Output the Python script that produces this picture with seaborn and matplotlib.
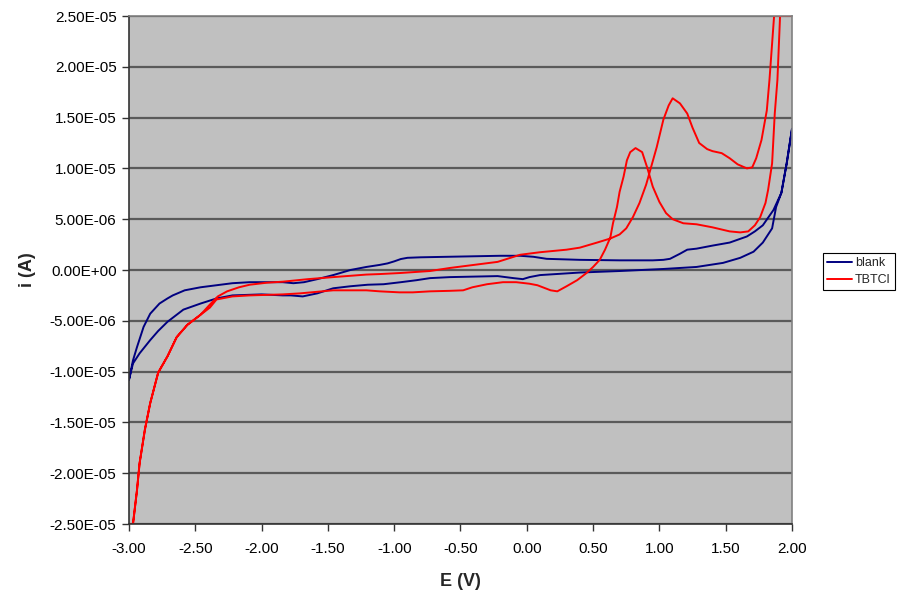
import numpy as np
import pandas as pd
import seaborn as sns
import matplotlib
matplotlib.use("Agg")
import matplotlib.pyplot as plt
from matplotlib.ticker import FuncFormatter

# Cyclic voltammograms, potential E in V and current i in microamps.
# Each trace is stored as forward scan (-3 V -> +2 V) and reverse scan (+2 V -> -3 V).
blank_fwd_E = [-3.00, -2.97, -2.94, -2.91, -2.89, -2.84, -2.77, -2.71, -2.67, -2.58,
               -2.46, -2.34, -2.22, -2.09, -1.96, -1.84, -1.76, -1.68, -1.58, -1.46,
               -1.33, -1.21, -1.11, -1.05, -1.00, -0.95, -0.90, -0.80, -0.60, -0.40,
               -0.20, -0.05, 0.05, 0.15, 0.40, 0.70, 0.95, 1.03, 1.08, 1.155,
               1.21, 1.28, 1.40, 1.53, 1.66, 1.72, 1.78, 1.86, 1.92, 1.96, 2.00]
blank_fwd_i = [-10.8, -8.9, -7.6, -6.4, -5.6, -4.3, -3.3, -2.8, -2.5, -2.0,
               -1.7, -1.5, -1.3, -1.2, -1.2, -1.2, -1.3, -1.2, -0.9, -0.5,
               0.0, 0.3, 0.5, 0.65, 0.85, 1.08, 1.2, 1.25, 1.3, 1.35,
               1.4, 1.4, 1.3, 1.1, 1.0, 0.95, 0.95, 1.0, 1.1, 1.6,
               2.0, 2.1, 2.4, 2.7, 3.3, 3.8, 4.4, 5.9, 7.6, 10.5, 13.9]
blank_rev_E = [2.00, 1.96, 1.92, 1.88, 1.85, 1.78, 1.71, 1.61, 1.48, 1.28,
               1.03, 0.70, 0.40, 0.10, 0.02, -0.03, -0.10, -0.22, -0.40, -0.58,
               -0.73, -0.83, -0.95, -1.08, -1.20, -1.33, -1.46, -1.58, -1.69, -1.78,
               -1.84, -2.00, -2.22, -2.34, -2.46, -2.59, -2.71, -2.78, -2.84, -2.92,
               -2.97, -3.00]
blank_rev_i = [13.9, 10.5, 7.6, 6.2, 4.1, 2.7, 1.8, 1.2, 0.7, 0.3,
               0.1, -0.1, -0.25, -0.5, -0.7, -0.9, -0.8, -0.6, -0.65, -0.7,
               -0.8, -1.0, -1.2, -1.4, -1.45, -1.6, -1.8, -2.3, -2.6, -2.5,
               -2.5, -2.4, -2.5, -2.8, -3.3, -3.9, -5.1, -6.0, -6.9, -8.2,
               -9.2, -10.8]

tbtcl_fwd_E = [-3.00, -2.97, -2.94, -2.92, -2.88, -2.84, -2.78, -2.71, -2.64, -2.56,
               -2.46, -2.39, -2.33, -2.26, -2.17, -2.09, -1.96, -1.84, -1.65, -1.46,
               -1.21, -1.11, -0.96, -0.73, -0.58, -0.40, -0.22, -0.05, 0.10, 0.30,
               0.40, 0.53, 0.63, 0.70, 0.75, 0.80, 0.85, 0.90, 0.98, 1.03,
               1.07, 1.10, 1.155, 1.21, 1.25, 1.30, 1.36, 1.40, 1.47, 1.53,
               1.59, 1.66, 1.70, 1.73, 1.77, 1.81, 1.83, 1.865, 1.88, 2.00]
tbtcl_fwd_i = [-28.0, -25.0, -21.7, -19.0, -15.7, -13.1, -10.1, -8.5, -6.6, -5.4,
               -4.4, -3.4, -2.6, -2.1, -1.7, -1.45, -1.25, -1.15, -0.9, -0.7,
               -0.45, -0.4, -0.3, -0.1, 0.2, 0.5, 0.8, 1.5, 1.75, 2.0,
               2.2, 2.7, 3.1, 3.5, 4.1, 5.2, 6.6, 8.4, 12.1, 14.8,
               16.2, 16.9, 16.4, 15.4, 14.0, 12.5, 11.9, 11.7, 11.5, 11.0,
               10.4, 10.0, 10.1, 11.0, 12.8, 15.7, 18.7, 25.0, 27.0, 30.0]
tbtcl_rev_E = [2.00, 1.95, 1.91, 1.89, 1.87, 1.85, 1.82, 1.80, 1.76, 1.72,
               1.67, 1.61, 1.53, 1.40, 1.28, 1.18, 1.10, 1.05, 1.00, 0.95,
               0.91, 0.87, 0.82, 0.78, 0.755, 0.73, 0.70, 0.68, 0.65, 0.63,
               0.59, 0.55, 0.50, 0.45, 0.38, 0.30, 0.23, 0.18, 0.12, 0.08,
               0.02, -0.08, -0.18, -0.30, -0.41, -0.48, -0.58, -0.73, -0.86, -0.96,
               -1.11, -1.21, -1.46, -1.71, -1.84, -2.09, -2.22, -2.34, -2.39, -2.46,
               -2.56, -2.64, -2.71, -2.78, -2.84, -2.88, -2.92, -2.94, -2.97, -3.00]
tbtcl_rev_i = [30.0, 28.0, 25.0, 18.7, 15.4, 10.5, 7.9, 6.6, 5.2, 4.4,
               3.8, 3.7, 3.8, 4.2, 4.5, 4.6, 5.0, 5.6, 6.7, 8.2,
               10.0, 11.6, 12.0, 11.6, 10.8, 9.2, 7.7, 6.2, 4.6, 3.2,
               2.0, 1.0, 0.3, -0.3, -1.0, -1.6, -2.1, -2.0, -1.7, -1.5,
               -1.35, -1.2, -1.2, -1.4, -1.7, -2.0, -2.05, -2.1, -2.2, -2.2,
               -2.1, -2.0, -2.0, -2.3, -2.4, -2.5, -2.6, -2.9, -3.7, -4.4,
               -5.4, -6.6, -8.5, -10.1, -13.1, -15.7, -19.0, -21.7, -25.2, -28.0]

series_names = ["blank", "TBTCl"]
series_colors = ["#000080", "#FF0000"]

x_ticks = [-3.0, -2.5, -2.0, -1.5, -1.0, -0.5, 0.0, 0.5, 1.0, 1.5, 2.0]
y_ticks = [-2.5e-5, -2.0e-5, -1.5e-5, -1.0e-5, -5.0e-6, 0.0,
           5.0e-6, 1.0e-5, 1.5e-5, 2.0e-5, 2.5e-5]
Y_MIN, Y_MAX = y_ticks[0], y_ticks[-1]


def trace(name, E_f, i_f, E_r, i_r):
    E = list(E_f) + list(E_r)
    i = list(i_f) + list(i_r)
    return pd.DataFrame({"E": E, "i": np.array(i) * 1e-6, "series": name,
                         "step": np.arange(len(E))})


df = pd.concat([
    trace("blank", blank_fwd_E, blank_fwd_i, blank_rev_E, blank_rev_i),
    trace("TBTCl", tbtcl_fwd_E, tbtcl_fwd_i, tbtcl_rev_E, tbtcl_rev_i),
], ignore_index=True)
# excursions beyond the current range run along the plot frame
df["i"] = df["i"].clip(Y_MIN, Y_MAX)

sns.set_style("ticks", {"axes.facecolor": "#C0C0C0"})
plt.rcParams["font.family"] = ["Liberation Sans", "DejaVu Sans"]

fig = plt.figure(figsize=(9.02, 5.90), dpi=100)
ax = fig.add_axes([129 / 902, 1 - 524 / 590, (792 - 129) / 902, (524 - 16) / 590])

sns.lineplot(data=df, x="E", y="i", hue="series", hue_order=series_names,
             palette=series_colors, sort=False, estimator=None, units="series",
             linewidth=1.4, ax=ax, legend=True)

ax.set_xlim(-3.0, 2.0)
ax.set_ylim(Y_MIN, Y_MAX)
ax.set_xticks(x_ticks)
ax.set_yticks(y_ticks)
ax.xaxis.set_major_formatter(FuncFormatter(lambda v, p: f"{v:.2f}"))
ax.yaxis.set_major_formatter(FuncFormatter(lambda v, p: f"{v:.2E}"))

ax.grid(axis="y", color="#5a5a5a", linewidth=1.6)
ax.grid(axis="x", visible=False)
ax.set_axisbelow(True)

for side in ["left", "bottom"]:
    ax.spines[side].set_color("#333333")
    ax.spines[side].set_linewidth(1.2)
for side in ["right", "top"]:
    ax.spines[side].set_visible(True)
    ax.spines[side].set_color("#808080")
    ax.spines[side].set_linewidth(1.2)

ax.tick_params(axis="both", direction="out", length=5, width=1.0, color="#333333",
               labelsize=11, labelcolor="black")
ax.tick_params(axis="x", pad=8)
ax.tick_params(axis="y", pad=4)

ax.set_xlabel("E (V)", fontsize=13, fontweight="bold", labelpad=12)
ax.set_ylabel("i (A)", fontsize=13, fontweight="bold", labelpad=10)

handles, labels = ax.get_legend_handles_labels()
ax.legend(handles=handles, labels=labels, loc="center left",
          bbox_to_anchor=(823 / 902, 1 - 271.5 / 590), bbox_transform=fig.transFigure,
          frameon=True, fancybox=False, edgecolor="black", facecolor="white",
          framealpha=1, fontsize=9, handlelength=2.0, handletextpad=0.2,
          borderpad=0.35, labelspacing=0.4, borderaxespad=0)
ax.get_legend().get_frame().set_linewidth(0.8)

fig.savefig("out.png", dpi=100, facecolor="white")
